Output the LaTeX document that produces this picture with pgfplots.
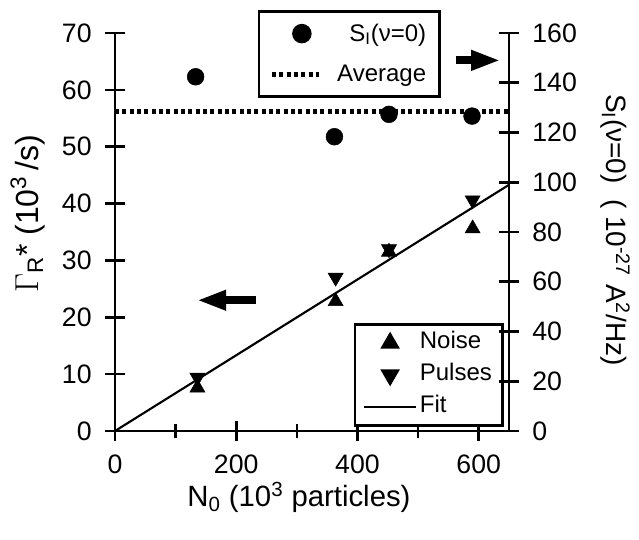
\documentclass[border=0pt]{standalone}
\usepackage{fontspec}
\setmainfont{Liberation Sans}
\usepackage{pgfplots}
\pgfplotsset{compat=1.18}
\usetikzlibrary{arrows.meta}

\pgfplotstableread{
x y
136 7.6
364 22.8
452 31.5
590 35.6
}\noisetab
\pgfplotstableread{
x y
136 9.4
364 27.0
452 32.0
590 40.6
}\pulsetab
\pgfplotstableread{
x y
133 142.4
362 118.3
452 127.3
589 126.6
}\sitab

\pgfplotsset{
  linesample/.style 2 args={legend image code/.code={\path[draw=none] (0pt,0pt) -- (#2,0pt);\draw[##1] (0pt,0pt) -- (#1,0pt);}},
  marksample/.style 2 args={legend image code/.code={\path[draw=none] (0pt,0pt) -- (#2,0pt);\draw[##1] plot coordinates {(#1,0pt)};}},
}
\newcommand{\fs}{\fontsize{20}{24}\selectfont}
\newcommand{\fl}{\fontsize{18}{21}\selectfont}
\begin{document}
\begin{tikzpicture}
\pgfplotsset{
  common/.style={
    scale only axis, width=295.5pt, height=298.5pt,
    xmin=0, xmax=650,
    axis line style={-, line width=2pt},
    tick style={line width=2pt, black},
    tick align=center,
    major tick length=15pt, minor tick length=10pt,
    tick label style={font=\fs},
    /pgf/number format/assume math mode=true,
  }
}
\begin{axis}[common, name=ax,
  ymin=0, ymax=70,
  axis x line*=bottom, axis y line*=left,
  xtick={0,200,400,600}, minor xtick={100,300,500},
  ytick={0,10,...,70},
  yticklabel style={xshift=-6.5pt},
  xticklabel style={yshift=-7pt},
  xlabel={N\textsubscript{0} (10\textsuperscript{3} particles)},
  ylabel={$\Gamma$\textsubscript{R}* (10\textsuperscript{3}\,/s)},
  xlabel style={at={(axis description cs:0.467,-0.166)}, anchor=center, font=\fontsize{22}{26}\selectfont},
  ylabel style={at={(axis description cs:-0.222,0.545)}, anchor=center, font=\fontsize{24}{28}\selectfont},
  legend style={at={(0.987,0.01)}, anchor=south east, draw=black, line width=2pt,
    font=\fl, row sep=0pt, inner xsep=6pt, inner ysep=2pt,
    nodes={text height=14pt, text depth=6pt},
    cells={anchor=west}},
]
\addplot[only marks, mark=triangle*, mark size=6.5pt, black, marksample={19.5pt}{39pt}] table {\noisetab};
\addlegendentry{Noise}
\addplot[only marks, mark=triangle*, mark size=6.5pt, mark options={rotate=180}, black, marksample={19.5pt}{39pt}] table {\pulsetab};
\addlegendentry{Pulses}
\addplot[line width=1.6pt, black, linesample={39pt}{39pt}] coordinates {(0,0) (650,43.3)};
\addlegendentry{Fit}
\draw[line width=6pt, -{Triangle[length=22pt, width=14pt]}] (axis cs:233,23) -- (axis cs:135,23);
\end{axis}
\begin{axis}[common,
  ymin=0, ymax=160,
  axis x line=none, axis y line*=right,
  ytick={0,20,...,160},
  yticklabel style={xshift=6.5pt},
  ylabel={S\textsubscript{I}(ν=0)\ \ ( 10\textsuperscript{-27} A\textsuperscript{2}/Hz)},
  ylabel style={at={(axis description cs:1.269,0.505)}, anchor=center, rotate=180, font=\fontsize{21}{25}\selectfont},
  legend style={at={(0.827,1.058)}, anchor=north east, draw=black, line width=2pt,
    font=\fl, row sep=12.5pt, inner xsep=8pt, inner ysep=7.5pt,
    cells={anchor=east}},
]
\addplot[only marks, mark=*, mark size=6.3pt, black, marksample={22.5pt}{47pt}] table {\sitab};
\addlegendentry{S\textsubscript{I}(ν=0)}
\addplot[line width=3.5pt, black, dash pattern=on 3pt off 2.5pt, linesample={35pt}{47pt}] coordinates {(0,128.4) (650,128.4)};
\addlegendentry{Average}
\draw[line width=6pt, -{Triangle[length=22pt, width=14pt]}] (axis cs:562,149) -- (axis cs:636,149);
\end{axis}
\pgfresetboundingbox
\path[use as bounding box] ([xshift=-86.25pt,yshift=-81pt]ax.south west) rectangle ([xshift=97.5pt,yshift=24.75pt]ax.north east);
\end{tikzpicture}
\end{document}
